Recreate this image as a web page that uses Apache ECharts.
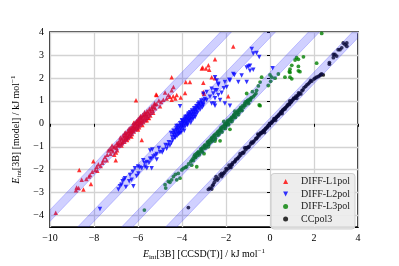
<!DOCTYPE html>
<html>
<head>
<meta charset="utf-8">
<script src="https://cdn.jsdelivr.net/npm/echarts@6/dist/echarts.min.js"></script>
<style>
html,body{margin:0;padding:0;background:#fff;}
#chart{width:399px;height:266px;}
</style>
</head>
<body>
<div id="chart"></div>
<script>
// ---- data (displayed coordinates) ----
const seriesNames = ['DIFF-L1pol', 'DIFF-L2pol', 'DIFF-L3pol', 'CCpol3'];
const xTicks = [-10, -8, -6, -4, -2, 0, 2, 4];
const yTicks = [-4, -3, -2, -1, 0, 1, 2, 3, 4];
const bandOffsets = [6, 4, 2, 0];
const bandHalfWidth = 0.25;

const dataL1 = [
  [-9.74,-3.88],[-8.82,-2.89],[-8.79,-2.78],[-8.56,-2.44],[-8.48,-2.86],[-8.67,-2.01],[-8.23,-2.30],[-8.18,-2.23],
  [-8.14,-2.62],[-8.08,-2.09],[-7.95,-2.01],[-7.88,-1.87],[-7.80,-1.76],[-7.70,-1.84],[-8.03,-1.63],[-7.58,-1.59],
  [-7.42,-1.59],[-7.50,-1.45],[-7.01,-1.59],[-7.35,-1.16],[-7.27,-1.09],[-7.20,-1.12],[-7.14,-1.20],[-7.10,-1.02],
  [-7.05,-0.98],[-6.98,-1.05],[-6.92,-0.92],[-5.83,-0.71],[-6.09,1.03],[-5.18,1.28],
  [-6.90,-0.80],[-6.85,-0.88],[-6.82,-0.72],[-6.78,-0.84],[-6.74,-0.66],[-6.70,-0.78],[-6.66,-0.60],[-6.63,-0.70],
  [-6.60,-0.52],[-6.57,-0.64],[-6.54,-0.48],[-6.51,-0.58],[-6.48,-0.42],[-6.45,-0.55],[-6.42,-0.36],[-6.40,-0.47],
  [-6.37,-0.30],[-6.35,-0.41],[-6.32,-0.26],[-6.30,-0.36],[-6.28,-0.18],[-6.25,-0.30],[-6.22,-0.14],[-6.20,-0.25],
  [-6.18,-0.08],[-6.15,-0.20],[-6.12,-0.02],[-6.10,-0.14],[-6.08,0.04],[-6.05,-0.08],[-6.02,0.10],[-6.00,-0.02],
  [-5.98,0.14],[-5.95,0.02],[-5.92,0.18],[-5.90,0.06],[-5.87,0.24],[-5.84,0.12],[-5.81,0.28],[-5.78,0.16],
  [-5.75,0.34],[-5.72,0.22],[-5.68,0.38],[-5.65,0.28],[-5.62,0.44],[-5.58,0.34],[-5.55,0.50],[-5.50,0.42],
  [-5.46,0.58],[-5.42,0.48],[-5.38,0.66],[-5.33,0.58],[-5.28,0.74],[-5.22,0.68],[-5.15,0.86],[-6.60,-0.40],
  [-6.50,-0.70],[-6.30,-0.55],[-6.20,0.05],[-6.00,-0.25],[-5.90,0.30],[-5.80,-0.05],[-5.70,0.52],[-5.60,0.15],
  [-6.75,-0.95],[-6.95,-1.15],[-7.00,-1.25],[-6.40,-0.20],[-5.95,-0.15],[-5.50,0.25],
  [-6.88,-0.95],[-6.80,-0.60],[-6.72,-0.85],[-6.68,-0.50],[-6.62,-0.78],[-6.56,-0.38],[-6.52,-0.66],[-6.46,-0.30],
  [-6.44,-0.62],[-6.38,-0.52],[-6.34,-0.18],[-6.27,-0.44],[-6.24,-0.06],[-6.19,-0.33],[-6.14,0.06],[-6.11,-0.24],
  [-6.07,0.12],[-6.03,-0.18],[-5.99,0.22],[-5.93,-0.06],[-5.88,0.34],[-5.86,0.02],[-5.79,0.40],[-5.76,0.08],
  [-5.69,0.44],[-5.66,0.16],[-5.59,0.56],[-5.56,0.26],[-5.48,0.66],[-5.44,0.36],[-5.36,0.76],[-5.31,0.48],
  [-5.25,0.90],[-7.25,-1.30],[-7.18,-0.95],[-7.08,-1.35],[-6.96,-0.85],[-7.40,-1.35],[-7.62,-1.70],[-7.85,-2.05],
  [-8.35,-2.40],[-8.70,-2.80],
  [-5.23,0.85],[-5.00,0.77],[-5.15,1.25],[-4.77,1.36],[-4.62,1.25],[-4.55,1.18],[-4.47,1.05],[-4.40,1.20],
  [-4.30,1.10],[-4.70,1.10],[-4.47,1.46],[-4.39,1.60],[-4.47,2.03],[-4.24,1.25],[-4.06,1.15],[-3.86,1.34],
  [-3.83,1.82],[-3.64,1.82],[-3.03,1.79],[-3.03,1.39],[-3.00,1.31],[-3.10,2.41],[-2.91,2.41],[-2.80,2.55],
  [-2.76,2.35],[-3.06,2.45],[-2.65,2.03],[-2.50,1.99],[-2.50,2.81],[-1.67,3.37],[-1.90,1.20],[-4.95,0.95],
  [-4.85,1.05],[-5.05,1.02]
];
const dataL2 = [
  [-7.73,-3.71],[-6.89,-2.86],[-6.82,-2.72],[-6.55,-2.75],[-6.21,-2.72],[-6.64,-2.44],[-6.70,-2.50],[-6.29,-2.44],
  [-6.59,-2.37],[-6.36,-2.23],[-6.06,-2.27],[-6.24,-2.09],[-5.98,-2.16],[-6.14,-1.94],[-6.00,-1.86],[-5.92,-1.90],
  [-5.83,-1.94],[-5.68,-1.87],[-5.60,-1.94],[-5.38,-1.94],[-5.76,-1.59],[-5.60,-1.66],[-5.45,-1.52],[-5.38,-1.52],
  [-5.30,-1.42],[-5.15,-1.56],[-5.15,-1.31],[-5.45,-1.16],[-5.35,-1.12],[-5.00,-1.23],[-4.85,-1.14],[-4.70,-1.09],
  [-4.55,-0.95],[-4.60,-0.80],
  [-4.45,-0.58],[-4.40,-0.42],[-4.36,-0.50],[-4.32,-0.35],[-4.28,-0.44],[-4.24,-0.28],[-4.20,-0.38],[-4.17,-0.20],
  [-4.14,-0.30],[-4.10,-0.12],[-4.07,-0.22],[-4.04,-0.05],[-4.01,-0.16],[-3.98,0.02],[-3.95,-0.08],[-3.92,0.08],
  [-3.89,-0.02],[-3.86,0.14],[-3.83,0.04],[-3.80,0.20],[-3.77,0.10],[-3.74,0.26],[-3.71,0.16],[-3.68,0.32],
  [-3.65,0.22],[-3.62,0.38],[-3.59,0.28],[-3.56,0.44],[-3.53,0.36],[-3.50,0.52],[-3.46,0.42],[-3.43,0.58],
  [-3.40,0.50],[-3.36,0.66],[-3.32,0.58],[-3.28,0.74],[-3.24,0.68],[-3.20,0.84],[-3.15,0.78],[-3.10,0.92],
  [-3.05,0.86],[-3.00,1.00],[-4.30,-0.60],[-4.15,-0.45],[-4.00,0.15],[-3.90,-0.30],[-3.75,-0.05],[-3.60,0.05],
  [-3.50,0.20],[-3.40,0.30],[-4.50,-0.40],[-4.05,-0.40],[-3.85,0.30],[-3.70,0.45],[-4.25,-0.10],[-4.09,0.76],
  [-4.42,-0.70],[-4.38,-0.30],[-4.34,-0.60],[-4.26,-0.20],[-4.22,-0.52],[-4.18,-0.10],[-4.12,-0.40],[-4.08,0.02],
  [-4.02,-0.30],[-3.97,0.12],[-3.93,-0.18],[-3.88,0.22],[-3.84,-0.10],[-3.79,0.32],[-3.76,0.00],[-3.72,0.40],
  [-3.67,0.12],[-3.63,0.50],[-3.58,0.18],[-3.54,0.58],[-3.48,0.30],[-3.44,0.68],[-3.38,0.40],[-3.34,0.76],
  [-3.30,0.48],[-3.22,0.92],[-3.18,0.62],[-3.12,1.02],[-3.08,0.72],[-2.96,1.08],[-4.48,-0.82],[-4.65,-0.95],
  [-4.75,-0.92],[-4.90,-1.25],[-5.05,-1.05],[-5.22,-1.38],[-5.50,-1.70],[-5.70,-1.72],[-6.40,-2.50],[-6.75,-2.65],
  [-3.26,0.85],[-3.03,0.82],[-2.88,1.04],[-2.73,1.18],[-2.65,0.89],[-2.58,1.32],[-2.50,1.11],[-2.50,0.79],
  [-2.35,1.25],[-2.27,1.04],[-2.42,1.46],[-2.35,1.74],[-2.50,1.46],[-2.88,1.39],[-3.03,1.31],[-2.65,1.53],
  [-2.50,2.03],[-2.42,1.89],[-2.35,1.70],[-2.05,1.82],[-1.97,1.60],[-1.82,1.89],[-1.85,1.92],[-2.05,0.89],
  [-1.82,0.79],[-1.67,2.17],[-1.62,2.13],[-1.44,1.82],[-1.29,2.10],[-1.06,1.82],[-1.06,2.45],[-0.98,2.50],
  [-0.91,2.53],[-0.91,2.31],[-0.76,2.35],[-0.83,3.26],[-0.76,3.06],[-0.61,3.09],[-0.49,2.91],[0.12,2.42],
  [-2.53,0.89],[-2.20,1.35],[-2.10,1.55]
];
const dataL3 = [
  [-5.71,-3.76],[-4.74,-2.80],[-4.77,-2.65],[-4.62,-2.51],[-4.47,-2.44],[-4.24,-2.44],[-4.09,-2.37],[-4.17,-2.16],
  [-4.01,-2.01],[-3.79,-1.87],[-3.56,-1.80],[-3.94,-1.94],[-3.33,-1.87],[-4.39,-2.30],[-4.30,-2.20],
  [-3.60,-1.65],[-3.50,-1.52],[-3.45,-1.42],[-3.40,-1.48],[-3.35,-1.30],[-3.30,-1.38],[-3.25,-1.22],[-3.20,-1.28],
  [-3.15,-1.12],[-3.10,-1.18],[-3.05,-1.02],[-3.00,-1.08],[-2.95,-0.92],[-2.90,-0.98],[-2.85,-0.82],[-2.80,-0.90],
  [-2.75,-0.72],[-2.70,-0.80],[-2.65,-0.62],[-2.60,-0.70],[-2.55,-0.52],[-2.50,-0.60],[-2.45,-0.42],[-2.40,-0.50],
  [-2.35,-0.32],[-2.30,-0.40],[-2.25,-0.22],[-2.20,-0.30],[-2.15,-0.12],[-2.10,-0.20],[-2.05,-0.02],[-2.00,-0.10],
  [-1.95,0.08],[-1.90,0.00],[-1.85,0.18],[-1.80,0.10],[-1.75,0.28],[-1.70,0.20],[-1.65,0.38],[-1.60,0.30],
  [-1.55,0.48],[-1.50,0.40],[-1.45,0.58],[-1.40,0.50],[-1.35,0.68],[-1.30,0.60],[-1.25,0.78],[-1.20,0.72],
  [-1.15,0.88],[-1.10,0.82],[-1.05,0.98],[-1.00,0.92],[-0.95,1.06],[-0.90,1.02],[-0.85,1.14],[-2.62,-0.58],
  [-2.28,-0.28],[-1.98,0.02],[-1.68,0.32],[-1.38,0.62],[-2.80,-1.00],[-2.50,-0.75],[-2.27,-0.74],[-1.82,-0.24],
  [-3.00,-1.30],[-2.10,0.10],[-1.60,0.55],
  [-3.55,-1.58],[-3.48,-1.60],[-3.42,-1.35],[-3.37,-1.45],[-3.28,-1.25],[-3.22,-1.35],[-3.12,-1.08],[-3.08,-1.22],
  [-2.98,-0.95],[-2.92,-1.05],[-2.82,-0.78],[-2.77,-0.88],[-2.68,-0.66],[-2.63,-0.75],[-2.52,-0.48],[-2.48,-0.66],
  [-2.38,-0.36],[-2.33,-0.48],[-2.22,-0.16],[-2.18,-0.36],[-2.08,-0.06],[-2.03,-0.20],[-1.92,0.14],[-1.88,-0.04],
  [-1.78,0.22],[-1.73,0.10],[-1.62,0.42],[-1.57,0.28],[-1.47,0.52],[-1.43,0.40],[-1.32,0.72],[-1.27,0.58],
  [-1.17,0.80],[-1.12,0.95],[-1.02,1.02],[-0.97,0.88],[-0.88,1.08],[-3.70,-1.75],[-3.85,-1.90],[-4.55,-2.55],
  [-0.49,0.82],[-0.45,0.79],[-0.76,1.18],[-0.64,1.32],[-0.61,1.46],[-0.53,1.65],[-1.06,1.32],[-0.45,1.82],
  [-0.38,2.03],[-0.08,1.67],[0.03,1.85],[0.00,2.13],[0.08,2.03],[0.23,1.99],[0.38,2.17],[0.68,2.03],
  [0.91,2.03],[0.99,1.96],[0.91,2.24],[0.88,2.27],[1.36,2.27],[1.29,2.31],[0.99,2.55],[0.91,2.38],
  [1.29,2.50],[1.21,2.88],[1.14,2.78],[1.29,2.81],[1.52,2.92],[2.12,2.64],[2.35,3.94],[-0.70,1.25],[-0.80,1.40]
];
const dataCC = [
  [-3.71,-3.65],[-2.80,-2.86],[-2.73,-2.80],[-2.65,-2.84],[-2.58,-2.65],[-2.53,-2.55],[-2.45,-2.30],[-2.27,-2.23],
  [-2.20,-2.16],[-2.20,-2.30],[-2.05,-2.09],[-1.97,-2.01],[-1.90,-1.94],[-1.82,-1.87],[-1.75,-1.78],[-1.70,-1.70],
  [-1.62,-1.66],[-1.55,-1.55],[-1.48,-1.52],[-1.40,-1.42],[-1.33,-1.36],[-1.25,-1.26],[-1.18,-1.22],[-1.10,-1.12],
  [-1.02,-1.04],[-0.95,-0.98],[-0.88,-0.88],[-0.80,-0.84],[-0.72,-0.74],[-0.65,-0.66],[-0.58,-0.60],[-0.50,-0.52],
  [-0.45,-0.44],[-0.40,-0.42],[-0.35,-0.36],[-0.30,-0.30],[-0.25,-0.28],[-0.20,-0.20],[-0.15,-0.18],[-0.10,-0.10],
  [-0.05,-0.08],[0.00,0.00],[0.05,0.03],[0.10,0.10],[0.15,0.13],[0.20,0.20],[0.25,0.24],[0.30,0.30],
  [0.35,0.33],[0.40,0.40],[0.45,0.44],[0.50,0.52],[0.55,0.55],[0.60,0.62],[0.65,0.66],[0.70,0.70],
  [0.75,0.74],[0.80,0.82],[0.85,0.86],[0.90,0.90],[0.95,0.94],[1.00,1.02],[1.05,1.06],[1.10,1.10],
  [1.15,1.14],[1.21,1.11],[1.25,1.22],[1.35,1.32],[1.45,1.44],[1.55,1.58],[1.62,1.63],[1.74,1.74],
  [1.80,1.80],[1.90,1.86],[2.05,1.99],[2.12,2.03],[2.20,2.07],[2.27,2.10],[2.35,2.17],[2.42,2.13],
  [2.70,2.67],[2.70,2.60],[2.88,2.88],[2.88,3.02],[2.95,3.02],[3.03,2.95],[3.10,3.23],[3.18,3.23],
  [3.26,3.31],[3.33,3.52],[3.41,3.45],[3.49,3.38],[3.49,3.52],[-2.40,-2.45],[-2.10,-2.15],[-1.78,-1.90],
  [-1.15,-1.05],[-0.55,-0.45],[-0.25,-0.38],[0.25,0.15],[0.55,0.45],[0.90,1.00],[1.40,1.30],[1.30,1.35],
  [-2.62,-2.70],[-2.50,-2.42],[-2.35,-2.38],[-2.15,-2.22],[-2.00,-1.95],[-1.86,-1.80],[-1.72,-1.78],[-1.58,-1.62],
  [-1.45,-1.48],[-1.36,-1.30],[-1.22,-1.28],[-1.08,-1.04],[-0.98,-1.02],[-0.84,-0.80],[-0.76,-0.79],[-0.62,-0.64],
  [-0.52,-0.48],[-0.42,-0.38],[-0.32,-0.34],[-0.22,-0.24],[-0.12,-0.14],[-0.02,0.02],[0.08,0.05],[0.18,0.22],
  [0.28,0.26],[0.38,0.36],[0.48,0.46],[0.58,0.58],[0.68,0.64],[0.78,0.78],[0.88,0.84],[0.98,0.97],
  [1.08,1.12],[1.18,1.20],[1.28,1.26],[1.50,1.48],[1.68,1.70],[1.85,1.88],[2.00,1.95],[2.30,2.14]
];

// ---- chart ----
const FONT = 'Liberation Serif';
function fmtNum(v) { return v < 0 ? '\u2212' + Math.abs(v) : String(v); }
const richName = {
  it: { fontFamily: FONT, fontStyle: 'italic', fontSize: 10, color: '#000' },
  sub: { fontFamily: FONT, fontSize: 7, verticalAlign: 'bottom', color: '#000' },
  sup: { fontFamily: FONT, fontSize: 7, verticalAlign: 'top', color: '#000' }
};

const chart = echarts.init(document.getElementById('chart'), null, { renderer: 'canvas' });
const option = {
  animation: false,
  backgroundColor: '#fff',
  grid: { left: 50, top: 32, width: 308, height: 200, show: true, borderColor: '#000', borderWidth: 1.6, backgroundColor: 'transparent' },
  xAxis: {
    type: 'value', min: -10, max: 4, interval: 2,
    name: '{it|E}{sub|int}[3B] [CCSD(T)] / kJ mol{sup|\u22121}',
    nameLocation: 'middle', nameGap: 20,
    nameTextStyle: { fontFamily: FONT, fontSize: 10, color: '#000', lineHeight: 13, rich: richName },
    axisLine: { show: false },
    axisTick: { show: true, length: 3, lineStyle: { color: '#000', width: 1 } },
    axisLabel: { color: '#000', fontFamily: FONT, fontSize: 10, margin: 6, formatter: fmtNum },
    splitLine: { show: true, lineStyle: { color: '#d3d3d3', width: 1.3 } }
  },
  yAxis: {
    type: 'value', min: -4.5, max: 4,
    name: '{it|E}{sub|int}[3B] [model] / kJ mol{sup|\u22121}',
    nameLocation: 'middle', nameGap: 18, nameRotate: 90,
    nameTextStyle: { fontFamily: FONT, fontSize: 10, color: '#000', lineHeight: 13, rich: richName },
    axisLine: { show: false },
    axisTick: { show: true, length: 3, customValues: yTicks, lineStyle: { color: '#000', width: 1 } },
    axisLabel: { color: '#000', fontFamily: FONT, fontSize: 10, margin: 6, customValues: yTicks, formatter: fmtNum },
    splitLine: { show: true, lineStyle: { color: '#d3d3d3', width: 1.3 } }
  },
  legend: {
    data: [
      { name: seriesNames[0], icon: 'triangle' },
      { name: seriesNames[1], icon: 'path://M0,0 L10,0 L5,10 Z' },
      { name: seriesNames[2], icon: 'circle' },
      { name: seriesNames[3], icon: 'circle' }
    ],
    orient: 'vertical',
    right: 44, bottom: 37,
    itemWidth: 5, itemHeight: 5, itemGap: 0.5,
    padding: [2, 5, 4, 12],
    backgroundColor: 'rgba(235,235,235,0.92)',
    borderColor: '#cfcfcf', borderWidth: 1, borderRadius: 3,
    textStyle: { fontFamily: FONT, fontSize: 10, color: '#222', lineHeight: 12, padding: [0, 0, 0, 8] }
  },
  series: [
    { name: seriesNames[0], type: 'scatter', data: dataL1, symbol: 'triangle', symbolSize: 4.5, itemStyle: { color: '#ff0000' }, z: 2 },
    { name: seriesNames[1], type: 'scatter', data: dataL2, symbol: 'triangle', symbolRotate: 180, symbolSize: 4.5, itemStyle: { color: '#0000ff' }, z: 2 },
    { name: seriesNames[2], type: 'scatter', data: dataL3, symbol: 'circle', symbolSize: 3.8, itemStyle: { color: '#008000' }, z: 2 },
    { name: seriesNames[3], type: 'scatter', data: dataCC, symbol: 'circle', symbolSize: 3.8, itemStyle: { color: '#000000' }, z: 2 },
    {
      name: 'band', type: 'custom', silent: true, z: 3,
      data: bandOffsets.map(function (c) { return [c]; }),
      renderItem: function (params, api) {
        const c = api.value(0);
        const x0 = -11, x1 = 5, w = bandHalfWidth;
        const pts = [
          api.coord([x0, x0 + c - w]), api.coord([x1, x1 + c - w]),
          api.coord([x1, x1 + c + w]), api.coord([x0, x0 + c + w])
        ];
        const cs = params.coordSys;
        return {
          type: 'polygon',
          shape: { points: pts },
          style: { fill: 'rgba(40,40,255,0.22)', stroke: 'rgba(40,40,255,0.3)', lineWidth: 0.8 },
          clipPath: { type: 'rect', shape: { x: cs.x, y: cs.y, width: cs.width, height: cs.height } }
        };
      }
    }
  ]
};
chart.setOption(option);
</script>
</body>
</html>
